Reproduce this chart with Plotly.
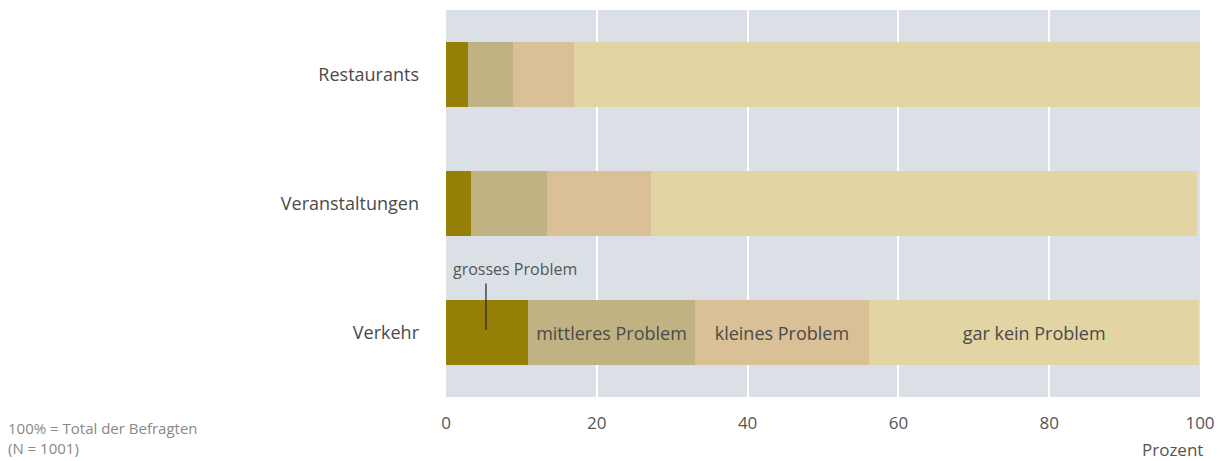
import plotly.graph_objects as go

# ---- data (Prozent) ----
categories = ["Verkehr", "Veranstaltungen", "Restaurants"]
grosses = [10.9, 3.3, 2.9]
mittleres = [22.1, 10.1, 6.0]
kleines = [23.1, 13.8, 8.1]
gar_kein = [43.8, 72.4, 83.0]

series_names = ["grosses Problem", "mittleres Problem", "kleines Problem", "gar kein Problem"]
series_values = [grosses, mittleres, kleines, gar_kein]
colors = ["#967f07", "#c0b283", "#d9c096", "#e3d4a4"]

x_ticks = [0, 20, 40, 60, 80, 100]

FONT = "Open Sans, Noto Sans, sans-serif"

fig = go.Figure()

for name, vals, color in zip(series_names, series_values, colors):
    # only the Verkehr row carries the inline labels (not the dark one)
    labels = [name if (cat == "Verkehr" and name != "grosses Problem") else "" for cat in categories]
    fig.add_trace(
        go.Bar(
            y=categories,
            x=vals,
            orientation="h",
            name=name,
            marker=dict(color=color, line=dict(width=0)),
            text=labels,
            textposition="inside",
            insidetextanchor="middle",
            textfont=dict(family=FONT, size=18, color="#4a4a4a"),
            hoverinfo="x+name",
            width=0.5,
        )
    )

# leader line + label for the small dark segment
mid_x = grosses[0] / 2
fig.add_shape(
    type="line", xref="x", yref="y",
    x0=mid_x - 0.15, x1=mid_x - 0.15, y0=0.02, y1=0.38,
    line=dict(color="#222222", width=1.2),
)
fig.add_annotation(
    x=0.6, y=0.39, xref="x", yref="y",
    text="grosses Problem", showarrow=False,
    xanchor="left", yanchor="bottom",
    font=dict(family=FONT, size=16, color="#555555"),
)

# footnote and axis unit
fig.add_annotation(
    x=0.0, y=0.0, xref="paper", yref="paper",
    xshift=-440, yshift=-19,
    text="100% = Total der Befragten<br>(N = 1001)",
    showarrow=False, xanchor="left", yanchor="top", align="left",
    font=dict(family=FONT, size=15, color="#888888"),
)
fig.add_annotation(
    x=1.0, y=0.0, xref="paper", yref="paper",
    yshift=-40, xshift=4, borderpad=0,
    text="Prozent", showarrow=False, xanchor="right", yanchor="top",
    font=dict(family=FONT, size=17, color="#555555"),
)

# page body adds an 8px margin, so the figure is 8px smaller
fig.update_layout(
    barmode="stack",
    width=1224,
    height=453,
    margin=dict(l=438, r=32, t=2, b=64),
    paper_bgcolor="white",
    plot_bgcolor="#dae0e6",
    showlegend=False,
    font=dict(family=FONT, size=16, color="#555555"),
    uniformtext=dict(mode="show", minsize=10),
    xaxis=dict(
        range=[0, 100],
        tickvals=x_ticks,
        showgrid=True,
        gridcolor="white",
        gridwidth=2,
        zeroline=False,
        showline=False,
        ticks="",
        ticklabelstandoff=14,
        tickfont=dict(family=FONT, size=17, color="#555555"),
    ),
    yaxis=dict(
        categoryorder="array",
        categoryarray=categories,
        range=[-0.5, 2.5],
        showgrid=False,
        zeroline=False,
        ticks="",
        ticklabelstandoff=26,
        tickfont=dict(family=FONT, size=18, color="#4a4a4a"),
    ),
)

fig.write_html("out.html")
